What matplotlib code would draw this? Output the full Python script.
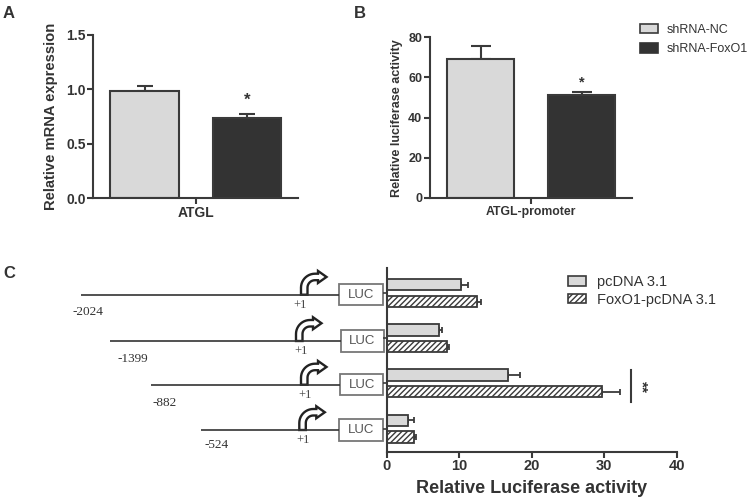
import matplotlib
matplotlib.use("Agg")
import matplotlib.pyplot as plt
from matplotlib.patches import Patch, Rectangle, PathPatch
from matplotlib.path import Path
import numpy as np

# ---------------- data ----------------
groups_ab = ["shRNA-NC", "shRNA-FoxO1"]
a_category = "ATGL"
a_values = [0.987, 0.733]
a_errors = [0.040, 0.037]
a_yticks = [0.0, 0.5, 1.0, 1.5]

b_category = "ATGL-promoter"
b_values = [69.0, 51.5]
b_errors = [6.8, 1.2]
b_yticks = [0, 20, 40, 60, 80]

c_constructs = ["-2024", "-1399", "-882", "-524"]
c_series = ["pcDNA 3.1", "FoxO1-pcDNA 3.1"]
c_pcdna = [10.2, 7.2, 16.7, 3.0]
c_pcdna_err = [1.0, 0.45, 1.7, 0.7]
c_foxo1 = [12.4, 8.3, 29.7, 3.8]
c_foxo1_err = [0.6, 0.3, 2.5, 0.3]
c_xticks = [0, 10, 20, 30, 40]

# ---------------- style ----------------
plt.rcParams['font.family'] = ['Liberation Sans', 'DejaVu Sans']
TXT = '#333333'
EDGE = '#3a3a3a'
LIGHT = '#d9d9d9'
DARK = '#333333'
plt.rcParams['hatch.linewidth'] = 1.0
plt.rcParams['hatch.color'] = '#333333'

W, H = 750, 499
fig = plt.figure(figsize=(W / 100, H / 100), dpi=100)

def px_axes(left, top, right, bottom):
    return fig.add_axes([left / W, 1 - bottom / H, (right - left) / W, (bottom - top) / H])

def style_axes(ax, size):
    for s in ['top', 'right']:
        ax.spines[s].set_visible(False)
    for s in ['left', 'bottom']:
        ax.spines[s].set_linewidth(1.5)
        ax.spines[s].set_color(EDGE)
    ax.tick_params(axis='both', direction='out', length=4, width=1.5, color=EDGE,
                   labelcolor=TXT, labelsize=size, pad=1.5)
    for lab in ax.get_xticklabels() + ax.get_yticklabels():
        lab.set_fontweight('bold')

# ---------------- panel A ----------------
axA = px_axes(93.3, 35, 298.3, 198)
xpos = np.arange(len(groups_ab))
axA.bar(xpos, a_values, width=0.667, color=[LIGHT, DARK], edgecolor=EDGE, linewidth=1.5, zorder=2)
axA.errorbar(xpos, a_values, yerr=[np.zeros(len(a_errors)), a_errors], fmt='none',
             ecolor=EDGE, elinewidth=1.5, capsize=6, capthick=1.5, zorder=1)
axA.set_xlim(-0.5, 1.5)
axA.set_ylim(0, 1.5)
axA.set_yticks(a_yticks)
axA.set_yticklabels([f"{v:.1f}" for v in a_yticks])
axA.set_xticks([0.5])
axA.set_xticklabels([a_category])
axA.set_ylabel("Relative mRNA expression", fontsize=10.6, fontweight='bold', color=TXT, labelpad=6)
style_axes(axA, 10)
axA.tick_params(axis='x', labelsize=10)
axA.text(1, 0.90, "*", ha='center', va='center', fontsize=12, fontweight='bold', color=TXT)

# ---------------- panel B ----------------
axB = px_axes(430, 37.3, 632.3, 198)
axB.bar(xpos, b_values, width=0.667, color=[LIGHT, DARK], edgecolor=EDGE, linewidth=1.5, zorder=2)
axB.errorbar(xpos, b_values, yerr=[np.zeros(len(b_errors)), b_errors], fmt='none',
             ecolor=EDGE, elinewidth=1.5, capsize=7.5, capthick=1.5, zorder=1)
axB.set_xlim(-0.5, 1.5)
axB.set_ylim(0, 80)
axB.set_yticks(b_yticks)
axB.set_xticks([0.5])
axB.set_xticklabels([b_category])
axB.set_ylabel("Relative luciferase activity", fontsize=9.1, fontweight='bold', color=TXT, labelpad=4)
style_axes(axB, 9)
axB.tick_params(axis='x', labelsize=8.8)
axB.text(1, 57.5, "*", ha='center', va='center', fontsize=10.5, fontweight='bold', color=TXT)

handles_ab = [Patch(facecolor=LIGHT, edgecolor=EDGE, linewidth=1.2),
              Patch(facecolor=DARK, edgecolor=DARK, linewidth=1.2)]
fig.legend(handles_ab, groups_ab, loc='upper left', bbox_to_anchor=(640 / W, 1 - 23.5 / H),
           frameon=False, fontsize=9, handlelength=1.45, handleheight=0.8,
           handletextpad=0.7, labelspacing=0.6, borderpad=0, borderaxespad=0,
           labelcolor=TXT)

# ---------------- panel C ----------------
axC = px_axes(386.7, 268.3, 676.7, 451.7)
ypos = np.arange(len(c_constructs))
off, bh = 0.185, 0.25
axC.barh(ypos - off, c_pcdna, height=bh, color=LIGHT, edgecolor=EDGE, linewidth=1.3, zorder=2)
axC.barh(ypos + off, c_foxo1, height=bh, color='white', edgecolor=EDGE, linewidth=1.3,
         hatch='//////', zorder=2)
axC.errorbar(c_pcdna, ypos - off, xerr=[np.zeros(4), c_pcdna_err], fmt='none', ecolor=EDGE,
             elinewidth=1.3, capsize=2, capthick=1.3, zorder=1)
axC.errorbar(c_foxo1, ypos + off, xerr=[np.zeros(4), c_foxo1_err], fmt='none', ecolor=EDGE,
             elinewidth=1.3, capsize=2, capthick=1.3, zorder=1)
axC.set_xlim(0, 40)
axC.set_ylim(3.51, -0.55)
axC.set_xticks(c_xticks)
axC.set_yticks(ypos)
axC.set_yticklabels([])
style_axes(axC, 10.5)
axC.tick_params(axis='y', length=3, width=1.2)
axC.set_xlabel("Relative Luciferase activity", fontsize=13, fontweight='bold', color=TXT, labelpad=5)
axC.plot([33.7, 33.7], [1.712, 2.41], color=EDGE, lw=1.5, clip_on=False)
axC.text(35.2, 2.07, "**", rotation=-90, ha='center', va='center', fontsize=11,
         fontweight='bold', color=TXT)

handles_c = [Patch(facecolor=LIGHT, edgecolor=EDGE, linewidth=1.2),
             Patch(facecolor='white', edgecolor=EDGE, linewidth=1.2, hatch='//////')]
fig.legend(handles_c, c_series, loc='upper left', bbox_to_anchor=(567.5 / W, 1 - 275 / H),
           frameon=False, fontsize=10.5, handlelength=1.3, handleheight=0.65,
           handletextpad=0.75, labelspacing=0.25, borderpad=0, borderaxespad=0,
           labelcolor=TXT)

# ---------------- promoter diagram (pixel-coordinate overlay) ----------------
ov = fig.add_axes([0, 0, 1, 1], zorder=-1)
ov.set_xlim(0, W)
ov.set_ylim(H, 0)
ov.axis('off')

line_y = [294.7, 341, 384.7, 430]
line_x0 = [81, 110.3, 150.7, 200.7]
box_x = [339.3, 340.7, 340, 339.3]
arrow_x = [301, 296, 301, 299.3]
plus_dx = [-1.3, 4.7, 4, 4]
lab_x = [87.5, 132.5, 164.5, 216.5]
lab_dy = [17, 18, 18, 15]


def bent_arrow(x0, y0, w=6.5, h=7.0, R=14.0, L=17.0, head=8.5, hh=6.0):
    n = 12
    pts = [(0, 0), (0, h)]
    for t in np.linspace(np.pi, np.pi / 2, n):
        pts.append((R + R * np.cos(t), h + R * np.sin(t)))
    top = h + R
    yc = top - w / 2
    pts += [(L, top), (L, yc + hh), (L + head, yc), (L, yc - hh), (L, top - w), (R, top - w)]
    r = R - w
    for t in np.linspace(np.pi / 2, np.pi, n):
        pts.append((R + r * np.cos(t), h + r * np.sin(t)))
    pts += [(w, 0)]
    verts = [(x0 + px, y0 - py) for px, py in pts]
    verts.append(verts[0])
    codes = [Path.MOVETO] + [Path.LINETO] * (len(verts) - 2) + [Path.CLOSEPOLY]
    return PathPatch(Path(verts, codes), facecolor='white', edgecolor='#222222', lw=1.7,
                     joinstyle='miter')


for i, name in enumerate(c_constructs):
    y = line_y[i]
    ov.plot([line_x0[i], box_x[i]], [y, y], color='#333333', lw=1.2, solid_capstyle='butt')
    ov.add_patch(Rectangle((box_x[i], y - 10.7), 43.3, 21.4, facecolor='white',
                           edgecolor='#777777', lw=1.3))
    ov.text(box_x[i] + 21.7, y, "LUC", ha='center', va='center', fontsize=9.5, color='#555555')
    ov.add_patch(bent_arrow(arrow_x[i], y))
    ov.text(arrow_x[i] + plus_dx[i], y + 10, "+1", ha='center', va='center', fontsize=9,
            family=['Liberation Serif'], color='#444444')
    ov.text(lab_x[i], y + lab_dy[i], name, ha='center', va='center', fontsize=9.5,
            family=['Liberation Serif'], color='#333333')

# panel letters
fig.text(3 / W, 1 - 13 / H, "A", fontsize=12, fontweight='bold', color=TXT, va='center')
fig.text(354 / W, 1 - 13 / H, "B", fontsize=12, fontweight='bold', color=TXT, va='center')
fig.text(3 / W, 1 - 273 / H, "C", fontsize=12, fontweight='bold', color=TXT, va='center')

fig.savefig("out.png", dpi=100)
